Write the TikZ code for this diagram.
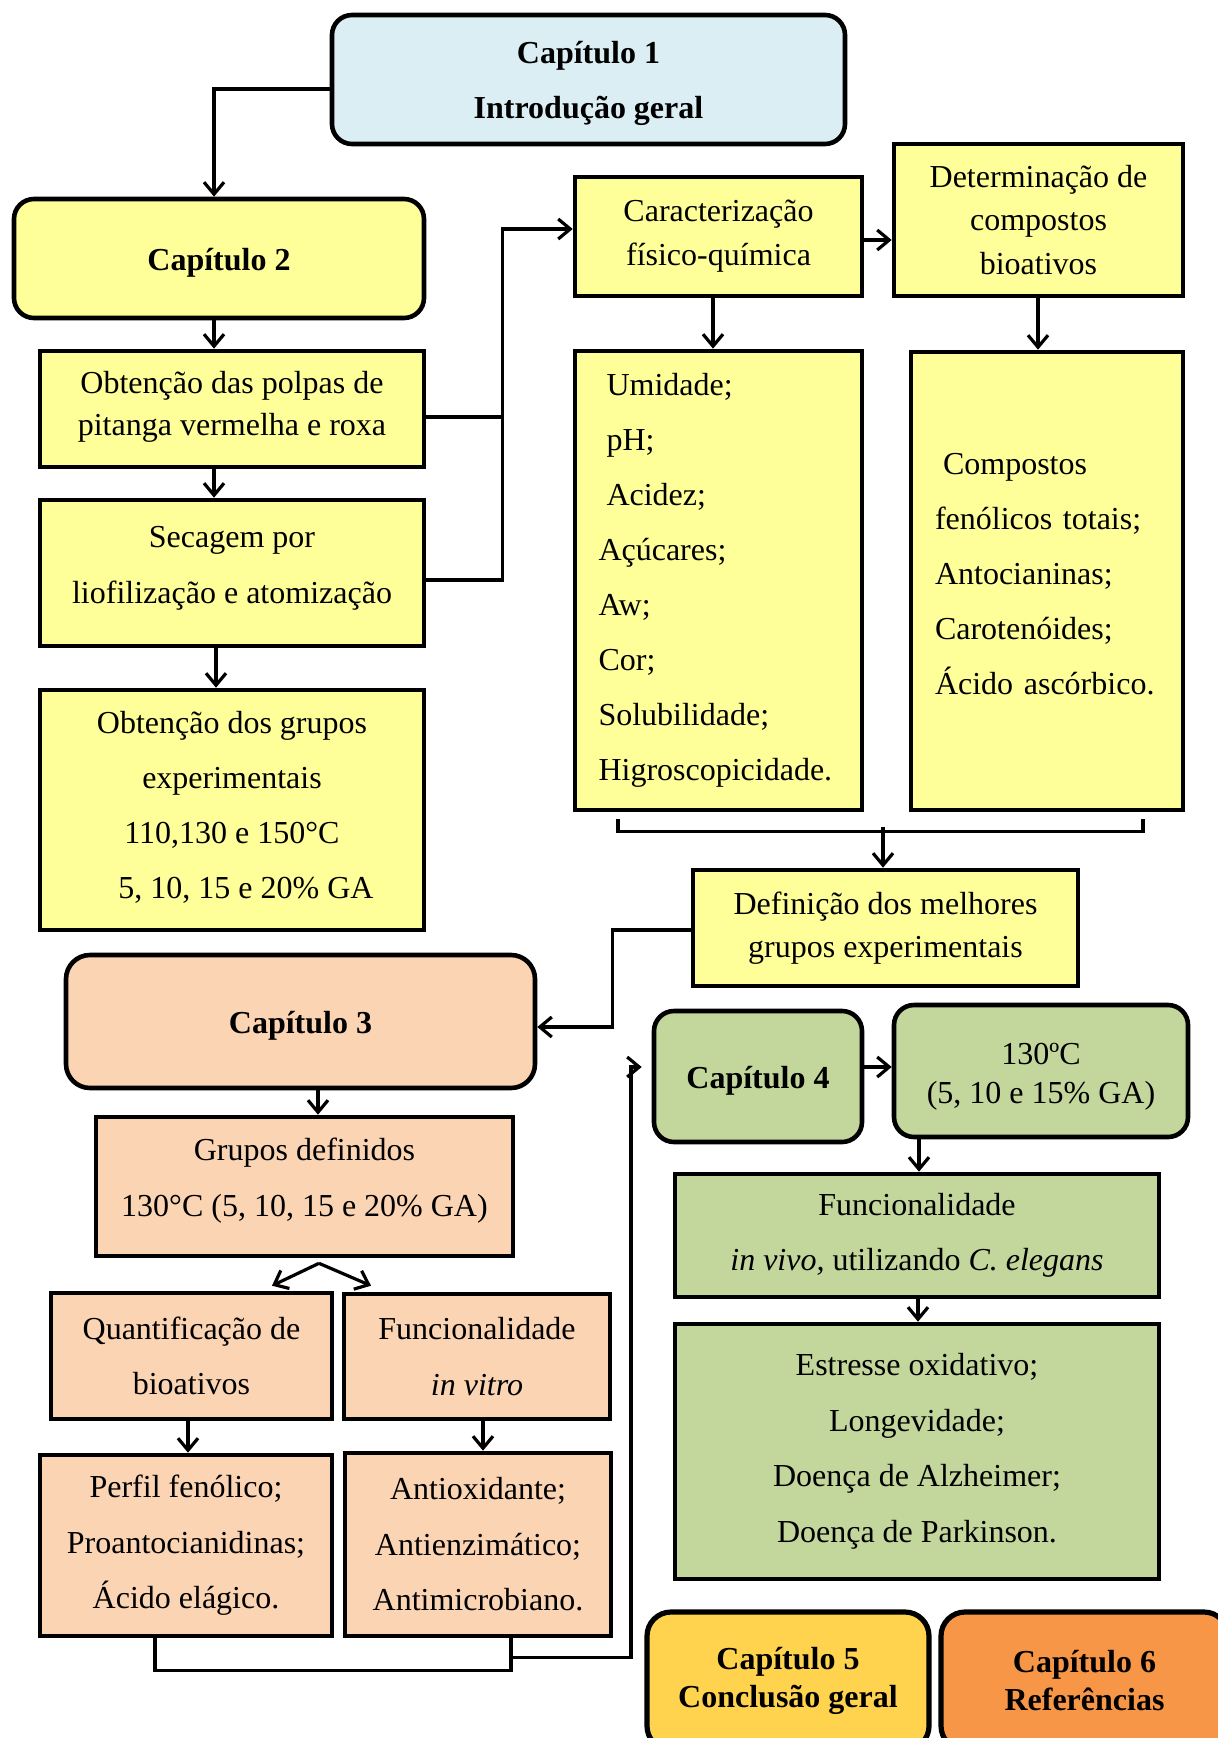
\documentclass[tikz,border=0pt]{standalone}
\usepackage{fontspec}
\setmainfont{Liberation Serif}
\usetikzlibrary{arrows.meta,calc}
\definecolor{cblue}{HTML}{DAEEF3}
\definecolor{cyel}{HTML}{FFFF99}
\definecolor{cpeach}{HTML}{FBD4B4}
\definecolor{cgreen}{HTML}{C3D69B}
\definecolor{cgold}{HTML}{FFD34D}
\definecolor{corange}{HTML}{F79646}
\newcommand\shiftt[2]{\raisebox{#1}[\height][\depth]{#2}}
\begin{document}
\begin{tikzpicture}[x=0.5pt,y=-0.5pt,
  box/.style={draw=black,line width=2.3pt,align=center,inner sep=2pt},
  rbox/.style={box,rounded corners=10pt},
  conn/.style={line width=1.6pt},
  arr/.style={conn,-{Straight Barb[length=6pt,width=10pt]}},
  fs/.style={font=\fontsize{16}{#1}\selectfont},
  lbox/.style={box,align=left,inner xsep=11.5pt,fs=27.5pt}
]
\useasboundingbox (0,0) rectangle (1218,1738);
\clip (0,0) rectangle (1218,1738);

% Nodes
\node[rbox,fill=cblue,fs=27.5pt,minimum width=256.5pt,minimum height=64.5pt] (cap1) at (588.5,79.5) {\shiftt{-2.2pt}{\bfseries Capítulo 1}\\\shiftt{-2.2pt}{\bfseries Introdução geral}};
\node[rbox,fill=cyel,fs=20pt,minimum width=205pt,minimum height=59.5pt] (cap2) at (219,258.5) {\shiftt{-2.2pt}{\bfseries Capítulo 2}};
\node[box,fill=cyel,fs=21pt,minimum width=192pt,minimum height=58pt] (polpas) at (232,409) {\shiftt{1.1pt}{Obtenção das polpas de}\\\shiftt{1.1pt}{pitanga vermelha e roxa}};
\node[box,fill=cyel,fs=28pt,minimum width=192pt,minimum height=73pt] (secagem) at (232,573) {\shiftt{2.2pt}{Secagem por}\\\shiftt{2.2pt}{liofilização e atomização}};
\node[box,fill=cyel,fs=27.5pt,minimum width=192pt,minimum height=120pt] (grupos) at (232,810) {\shiftt{1.4pt}{Obtenção dos grupos}\\\shiftt{1.4pt}{experimentais}\\\shiftt{1.4pt}{110,130 e 150°C}\\\hspace*{14pt}\shiftt{1.4pt}{5, 10, 15 e 20\% GA}};
\node[box,fill=cyel,fs=22pt,minimum width=143.5pt,minimum height=59.5pt] (caract) at (718.5,236.5) {Caracterização\\físico-química};
\node[box,fill=cyel,fs=21.75pt,minimum width=144.5pt,minimum height=76pt] (determ) at (1038.5,220) {Determinação de\\compostos\\bioativos};
\node[lbox,fill=cyel,text width=120pt,minimum width=143.5pt,minimum height=229.5pt] (umid) at (718.5,580.5) {\hspace*{4pt}Umidade;\\\hspace*{4pt}pH;\\\hspace*{4pt}Acidez;\\Açúcares;\\Aw;\\Cor;\\Solubilidade;\\Higroscopicidade.};
\node[lbox,fill=cyel,text width=112pt,minimum width=136pt,minimum height=229pt] (comp) at (1047,581) {\hspace*{4pt}\shiftt{3.3pt}{Compostos}\\\shiftt{3.3pt}{fenólicos totais;}\\\shiftt{3.3pt}{Antocianinas;}\\\shiftt{3.3pt}{Carotenóides;}\\\shiftt{3.3pt}{Ácido ascórbico.}};
\node[box,fill=cyel,fs=21.5pt,minimum width=192.5pt,minimum height=58pt] (defin) at (885.5,928) {Definição dos melhores\\grupos experimentais};
\node[rbox,fill=cpeach,fs=20pt,rounded corners=12pt,minimum width=234.5pt,minimum height=66.5pt] (cap3) at (300.5,1021.5) {\shiftt{-2.2pt}{\bfseries Capítulo 3}};
\node[box,fill=cpeach,fs=28pt,minimum width=208.5pt,minimum height=69.5pt] (gdef) at (304.5,1186.5) {\shiftt{2.8pt}{Grupos definidos}\\\shiftt{2.8pt}{130°C (5, 10, 15 e 20\% GA)}};
\node[box,fill=cpeach,fs=27.5pt,minimum width=140.5pt,minimum height=63pt] (quant) at (191.5,1356) {Quantificação de\\bioativos};
\node[box,fill=cpeach,fs=28pt,minimum width=133pt,minimum height=62.5pt] (fvitro) at (477,1356.5) {Funcionalidade\\\textit{in vitro}};
\node[box,fill=cpeach,fs=27.75pt,minimum width=146pt,minimum height=90.5pt] (perfil) at (186,1545.5) {Perfil fenólico;\\Proantocianidinas;\\Ácido elágico.};
\node[box,fill=cpeach,fs=27.75pt,minimum width=133pt,minimum height=91.5pt] (antiox) at (478,1544.5) {Antioxidante;\\Antienzimático;\\Antimicrobiano.};
\node[rbox,fill=cgreen,fs=20pt,minimum width=104pt,minimum height=65.5pt] (cap4) at (758,1076.5) {\shiftt{-2.2pt}{\bfseries Capítulo 4}};
\node[rbox,fill=cgreen,fs=19.5pt,minimum width=147pt,minimum height=66pt] (c130) at (1041,1071) {\shiftt{-3pt}{130ºC}\\\shiftt{-3pt}{(5, 10 e 15\% GA)}};
\node[box,fill=cgreen,fs=27.5pt,minimum width=242pt,minimum height=61.5pt] (fvivo) at (917,1235.5) {Funcionalidade\\\textit{in vivo,} utilizando \textit{C. elegans}};
\node[box,fill=cgreen,fs=27.75pt,minimum width=242pt,minimum height=127.5pt] (estr) at (917,1451.5) {Estresse oxidativo;\\Longevidade;\\Doença de Alzheimer;\\Doença de Parkinson.};
\node[rbox,fill=cgold,fs=19pt,rounded corners=12pt,line width=2.6pt,minimum width=141pt,minimum height=69pt] (cap5) at (788,1681) {\bfseries Capítulo 5\\\bfseries Conclusão geral};
\node[rbox,fill=corange,fs=19pt,rounded corners=12pt,line width=2.6pt,minimum width=143.5pt,minimum height=69pt] (cap6) at (1084.5,1681) {\bfseries Capítulo 6\\\bfseries Referências};

% Connectors
\draw[arr] ($(cap1.west)+(0,9.5)$) -| ($(cap2.north)+(-5,0)$);
\draw[arr] ($(cap2.south)+(-5,0)$) -- ($(polpas.north)+(-18,0)$);
\draw[arr] ($(polpas.south)+(-18,0)$) -- ($(secagem.north)+(-18,0)$);
\draw[arr] ($(secagem.south)+(-16,0)$) -- ($(grupos.north)+(-16,0)$);
\draw[conn] ($(polpas.east)+(0,8)$) -- ++(76,0);
\draw[arr] ($(secagem.east)+(0,7)$) -- ++(76,0) |- ($(caract.west)+(0,-7.5)$);
\draw[arr] ($(caract.east)+(0,3.5)$) -- ($(determ.west)+(0,20)$);
\draw[arr] ($(caract.south)+(-5.5,0)$) -- ($(umid.north)+(-5.5,0)$);
\draw[arr] ($(determ.south)+(-0.5,0)$) -- ($(comp.north)+(-9,0)$);
\draw[conn] ($(umid.south)+(-100.5,7)$) -- ++(0,12) -- ($(comp.south)+(96,19)$) -- ++(0,-12);
\coordinate (bmid) at ($(defin.north)+(-2.5,-41)$);
\draw[arr] (bmid) -- ($(defin.north)+(-2.5,0)$);
\draw[arr] ($(defin.west)+(0,2)$) -- ++(-78,0) |- ($(cap3.east)+(0,5.5)$);
\draw[arr] ($(cap3.south)+(17.5,0)$) -- ($(gdef.north)+(13.5,0)$);
\draw[arr] ($(gdef.south)+(14.5,5)$) -- ($(quant.north)+(80.5,-5)$);
\draw[arr] ($(gdef.south)+(14.5,5)$) -- ($(fvitro.north)+(-106,-6)$);
\draw[arr] ($(quant.south)+(-3.5,0)$) -- ($(perfil.north)+(2,0)$);
\draw[arr] ($(fvitro.south)+(6,0)$) -- ($(antiox.north)+(5,0)$);
\draw[conn] ($(perfil.south)+(-31,0)$) -- ++(0,32) -| ($(antiox.south)+(33,0)$);
\draw[arr] ($(antiox.south)+(33,19)$) -- ++(120,0) |- ($(cap4.west)+(-10,-9.5)$);
\draw[arr] ($(cap4.east)+(0,-9.5)$) -- ($(c130.west)+(0,-4)$);
\draw[arr] ($(c130.south)+(-122,0)$) -- ($(fvivo.north)+(2,0)$);
\draw[arr] ($(fvivo.south)+(1,0)$) -- ($(estr.north)+(1,0)$);
\end{tikzpicture}
\end{document}
